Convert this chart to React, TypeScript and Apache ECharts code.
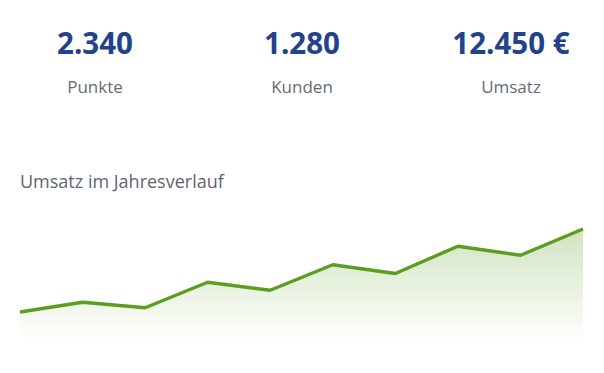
import React, { useEffect, useRef } from "react";
import * as echarts from "echarts";

// KPI tiles
const kpiValues = ["2.340", "1.280", "12.450 €"];
const kpiLabels = ["Punkte", "Kunden", "Umsatz"];

// Monthly revenue trend
const months = ["Jan", "Feb", "Mär", "Apr", "Mai", "Jun", "Jul", "Aug", "Sep", "Okt"];
const revenue = [800, 1080, 920, 1650, 1420, 2150, 1900, 2680, 2420, 3170];

const chartTitle = "Umsatz im Jahresverlauf";

const FONT = "'Open Sans', 'Noto Sans', sans-serif";

export default function App() {
  const ref = useRef<HTMLDivElement>(null);

  useEffect(() => {
    if (!ref.current) return;
    const chart = echarts.init(ref.current, undefined, { renderer: "svg" });

    const centers = [95, 302, 511];
    const kpiGraphics: any[] = [];
    kpiValues.forEach((v, i) => {
      kpiGraphics.push({
        type: "text",
        x: centers[i],
        y: 42,
        style: {
          text: v,
          fill: "#22428c",
          font: `bold 29.5px ${FONT}`,
          textAlign: "center",
          textVerticalAlign: "middle",
        },
      });
      kpiGraphics.push({
        type: "text",
        x: centers[i],
        y: 86,
        style: {
          text: kpiLabels[i],
          fill: "#666b75",
          font: `17px ${FONT}`,
          textAlign: "center",
          textVerticalAlign: "middle",
        },
      });
    });

    chart.setOption({
      animation: false,
      title: {
        text: chartTitle,
        left: 20,
        top: 172,
        padding: 0,
        textStyle: {
          fontFamily: FONT,
          fontSize: 18,
          fontWeight: "normal",
          color: "#5f6470",
        },
      },
      graphic: kpiGraphics,
      grid: { left: 20, right: 21, top: 200, bottom: 33 },
      xAxis: {
        type: "category",
        data: months,
        boundaryGap: false,
        show: false,
      },
      yAxis: {
        type: "value",
        min: 0,
        max: 4000,
        show: false,
      },
      series: [
        {
          type: "line",
          data: revenue,
          symbol: "none",
          lineStyle: { color: "#5b9e1f", width: 3.4 },
          areaStyle: {
            color: new echarts.graphic.LinearGradient(0, 0, 0, 1, [
              { offset: 0, color: "rgba(91,158,31,0.4)" },
              { offset: 1, color: "rgba(91,158,31,0)" },
            ]),
          },
        },
      ],
    });

    return () => chart.dispose();
  }, []);

  return (
    <div
      ref={ref}
      style={{ position: "fixed", left: 0, top: 0, width: 604, height: 373, background: "#fff" }}
    />
  );
}
